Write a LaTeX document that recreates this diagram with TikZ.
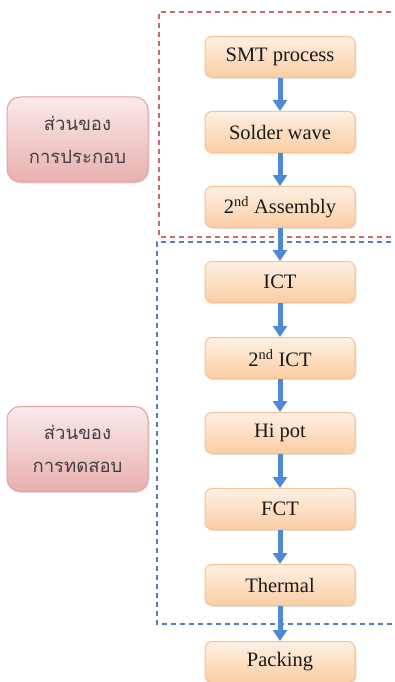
\documentclass[tikz,border=0pt]{standalone}
\usepackage{fontspec}
\setmainfont{Liberation Serif}
\newfontfamily\thaifont[Script=Thai]{Loma}
\usetikzlibrary{arrows.meta,shadows}

\definecolor{orangeborder}{HTML}{F7C393}
\definecolor{orangetop}{HTML}{FEF0E4}
\definecolor{orangebot}{HTML}{FBCDA3}
\definecolor{pinkborder}{HTML}{E3A3A3}
\definecolor{pinktop}{HTML}{FBEAEA}
\definecolor{pinkbot}{HTML}{E9AFAF}
\definecolor{flowblue}{HTML}{4F88D3}
\definecolor{reddash}{HTML}{D0666A}
\definecolor{bluedash}{HTML}{4E7FC0}

\begin{document}
\begin{tikzpicture}[x=1pt,y=-1pt,
  stepbox/.style={draw=orangeborder, line width=1pt, rounded corners=7pt,
    top color=orangetop, bottom color=orangebot,
    minimum width=150pt, minimum height=41pt, inner sep=0pt,
    font=\fontsize{20.5}{23}\selectfont, text=black!90,
    drop shadow={opacity=0.22, shadow xshift=1.5pt, shadow yshift=-1.5pt}},
  groupbox/.style={draw=pinkborder, line width=1pt, rounded corners=13pt,
    top color=pinktop, bottom color=pinkbot,
    minimum width=141pt, minimum height=85pt, inner sep=0pt,
    align=center, text=black!75,
    font=\thaifont\fontsize{18.5}{33}\selectfont,
    drop shadow={opacity=0.22, shadow xshift=1.5pt, shadow yshift=-1.5pt}},
  flow/.style={draw=flowblue, line width=5pt,
    -{Triangle[width=14pt,length=11pt]}, shorten >=0pt},
  frame/.style={line width=1.2pt, dash pattern=on 5pt off 4pt}
]
\useasboundingbox (0,0) rectangle (395,682);

% section frames, open on the right
\draw[frame, draw=reddash] (400,12) -- (159,12) -- (159,237) -- (400,237);
\draw[frame, draw=bluedash] (400,242) -- (157,242) -- (157,624) -- (400,624);

% process steps
\node[stepbox] (smt)  at (280,57)  {SMT process};
\node[stepbox] (wave) at (280,132) {Solder wave};
\node[stepbox] (asm)  at (280,207) {2\textsuperscript{nd} Assembly};
\node[stepbox] (ict)  at (280,282) {ICT};
\node[stepbox] (ict2) at (280,358) {2\textsuperscript{nd} ICT};
\node[stepbox] (hipot) at (280,433) {Hi pot};
\node[stepbox] (fct)  at (280,509) {FCT};
\node[stepbox] (therm) at (280,585) {Thermal};
\node[stepbox] (pack) at (280,662) {Packing};

% group labels
\node[groupbox] (assy) at (77.5,139.5) {ส่วนของ\\การประกอบ};
\node[groupbox] (test) at (77.5,449) {ส่วนของ\\การทดสอบ};

% flow arrows
\foreach \a/\b in {smt/wave, wave/asm, asm/ict, ict/ict2, ict2/hipot,
                   hipot/fct, fct/therm, therm/pack}
  \draw[flow] (\a.south) -- (\b.north);
\end{tikzpicture}
\end{document}
